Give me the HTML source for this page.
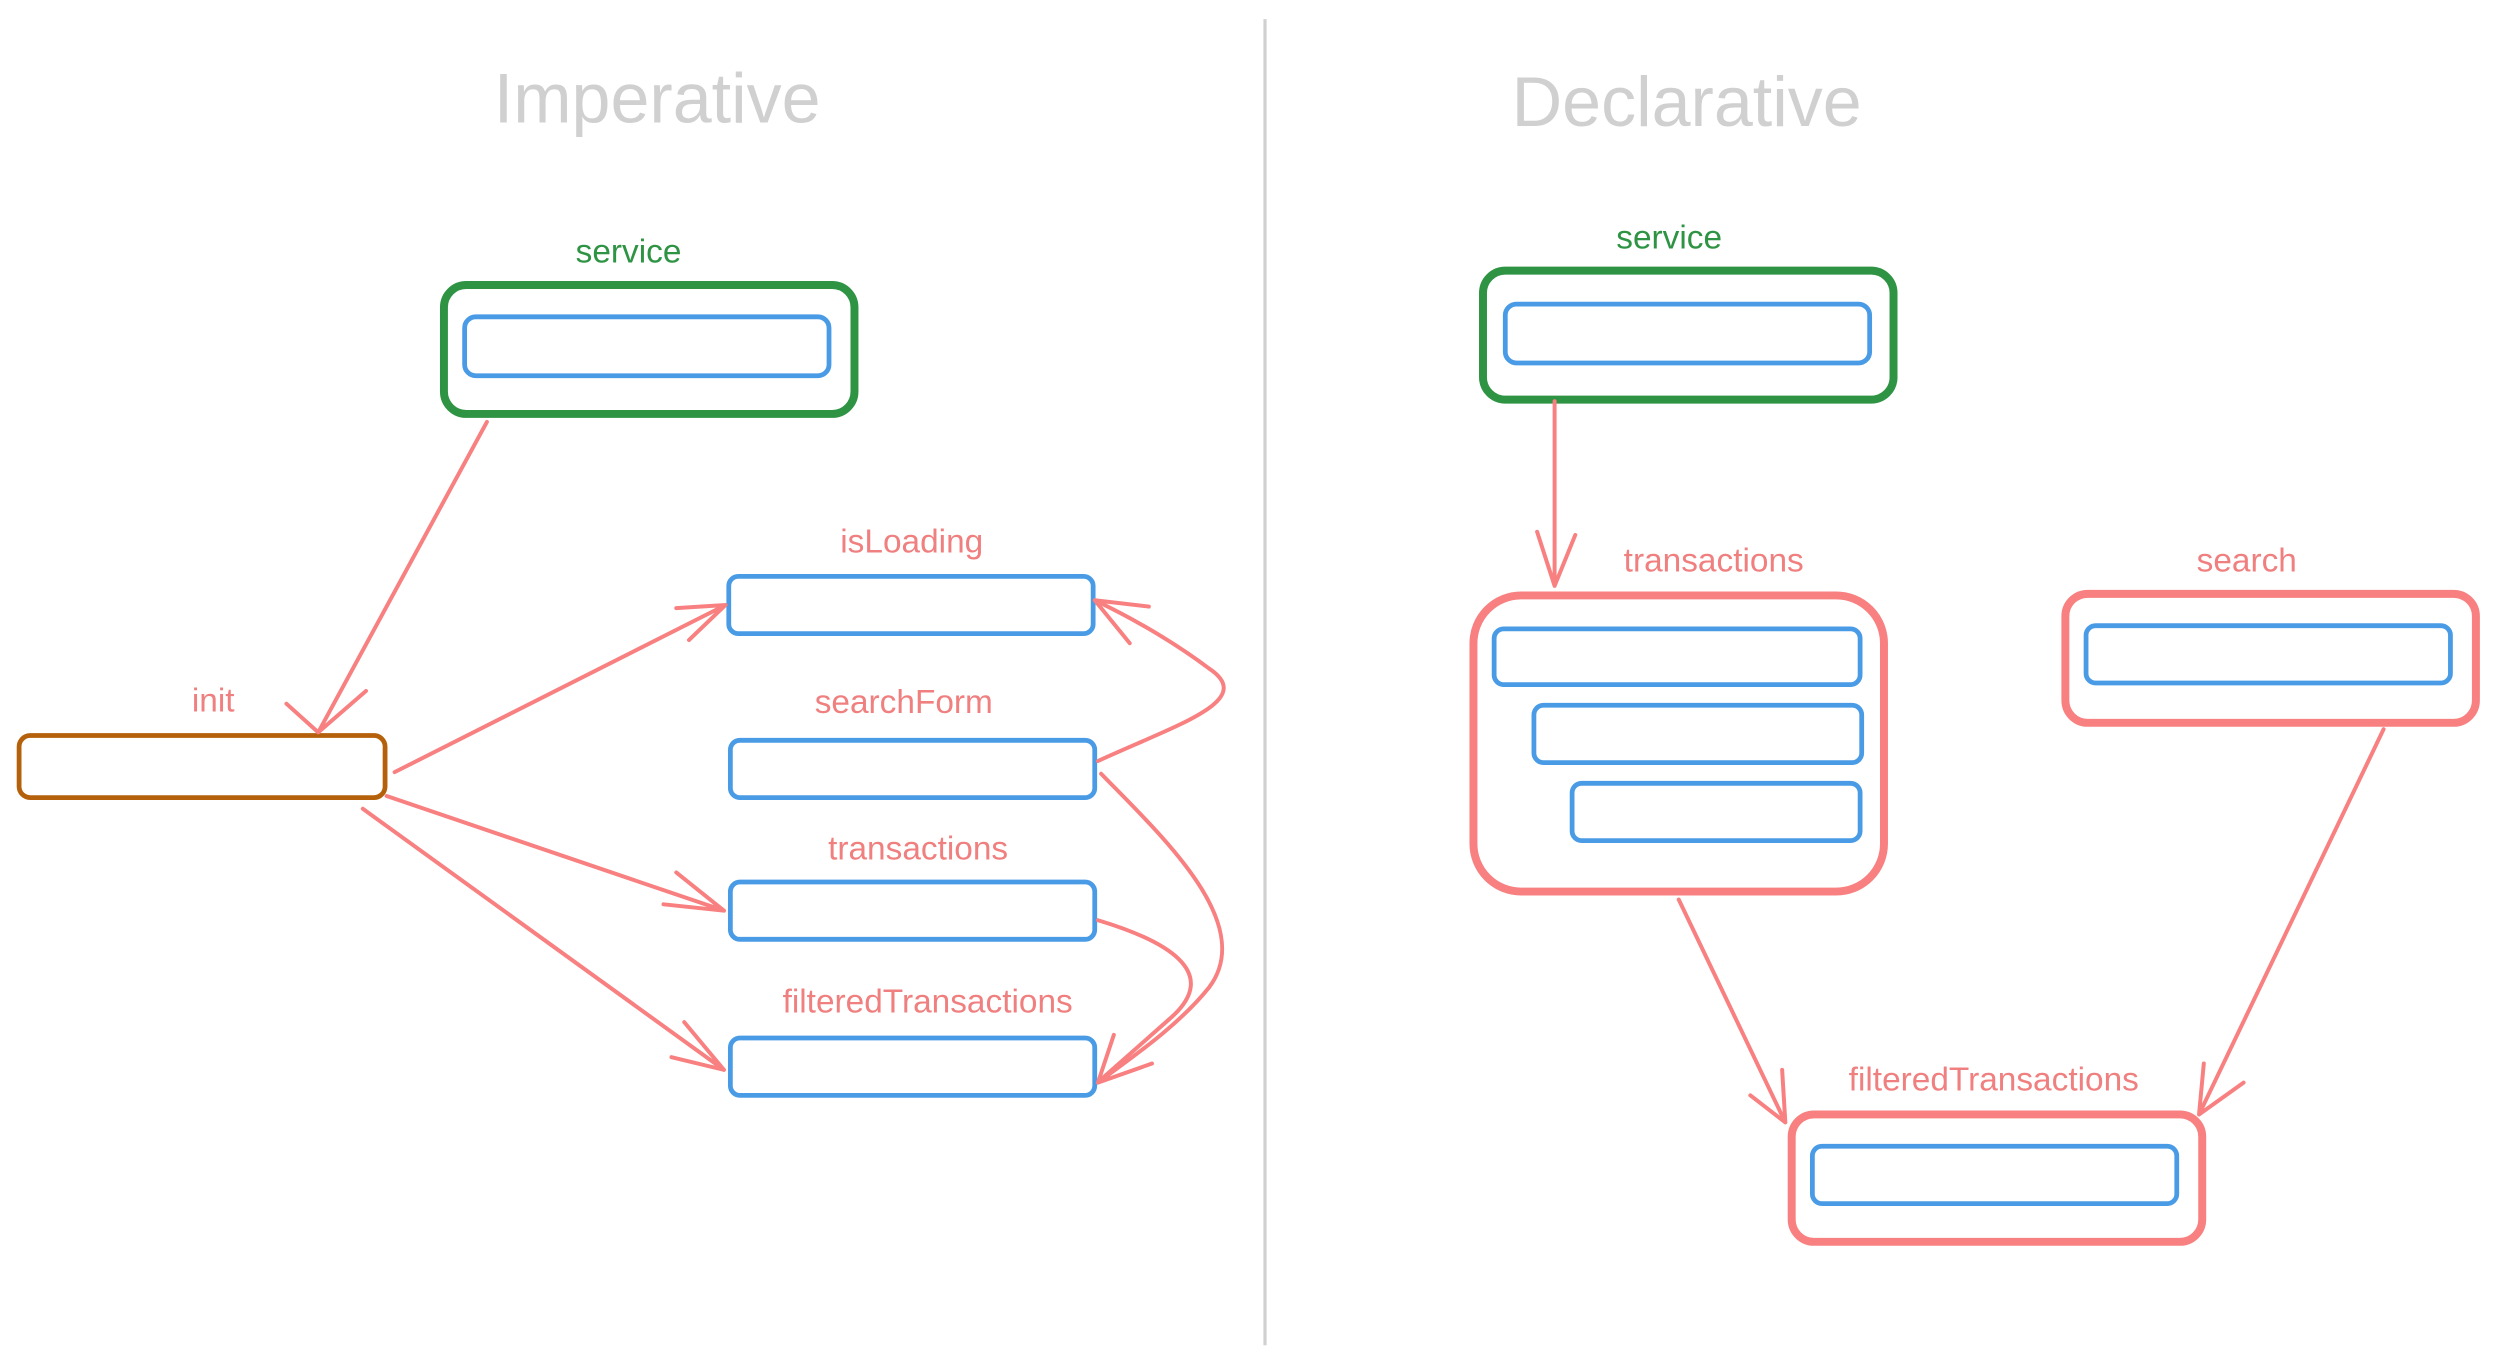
<!DOCTYPE html>
<html><head><meta charset="utf-8"><style>
html,body{margin:0;padding:0;background:#fff;}
svg{display:block;}
text{font-family:"Liberation Sans",sans-serif;}
</style></head><body>
<svg width="2495" height="1366" viewBox="0 0 1568 858" preserveAspectRatio="none" xmlns="http://www.w3.org/2000/svg">
<rect width="1568" height="858" fill="#fff"/>
<line x1="795" y1="12" x2="795" y2="845" stroke="#d0d0d0" stroke-width="2"/>
<text x="413" y="77" font-size="44" fill="#d0d0d0" text-anchor="middle">Imperative</text>
<text x="1060" y="79" font-size="44" fill="#d0d0d0" text-anchor="middle">Declarative</text>
<g font-size="21" text-anchor="middle">
<text x="395" y="165" fill="#2f9344">service</text>
<text x="1049" y="156" fill="#2f9344">service</text>
<text x="134" y="447" fill="#f08080">init</text>
<text x="573" y="347" fill="#f08080">isLoading</text>
<text x="568" y="448" fill="#f08080">searchForm</text>
<text x="577" y="540" fill="#f08080">transactions</text>
<text x="583" y="636" fill="#f08080">filteredTransactions</text>
<text x="1077" y="359" fill="#f08080">transactions</text>
<text x="1412" y="359" fill="#f08080">search</text>
<text x="1253" y="685" fill="#f08080">filteredTransactions</text>
</g>
<g fill="none" stroke-linecap="round" stroke-linejoin="round">
<rect x="279" y="179" width="258" height="81" rx="14" stroke="#2f9344" stroke-width="5"/>
<rect x="292" y="199" width="229" height="37" rx="7" stroke="#4a9be6" stroke-width="3"/>
<rect x="932" y="170" width="258" height="81" rx="14" stroke="#2f9344" stroke-width="5"/>
<rect x="946" y="191" width="229" height="37" rx="7" stroke="#4a9be6" stroke-width="3"/>
<rect x="12" y="462" width="230" height="39" rx="7" stroke="#b5600a" stroke-width="3"/>
<rect x="458" y="362" width="229" height="36" rx="6" stroke="#4a9be6" stroke-width="3"/>
<rect x="459" y="465" width="229" height="36" rx="6" stroke="#4a9be6" stroke-width="3"/>
<rect x="459" y="554" width="229" height="36" rx="6" stroke="#4a9be6" stroke-width="3"/>
<rect x="459" y="652" width="229" height="36" rx="6" stroke="#4a9be6" stroke-width="3"/>
<rect x="926" y="374" width="258" height="186" rx="30" stroke="#f88080" stroke-width="5"/>
<rect x="939" y="395" width="230" height="35" rx="6" stroke="#4a9be6" stroke-width="3"/>
<rect x="964" y="443" width="206" height="36" rx="6" stroke="#4a9be6" stroke-width="3"/>
<rect x="988" y="492" width="181" height="36" rx="6" stroke="#4a9be6" stroke-width="3"/>
<rect x="1298" y="373" width="258" height="81" rx="14" stroke="#f88080" stroke-width="5"/>
<rect x="1311" y="393" width="229" height="36" rx="6" stroke="#4a9be6" stroke-width="3"/>
<rect x="1126" y="700" width="258" height="80" rx="14" stroke="#f88080" stroke-width="5"/>
<rect x="1139" y="720" width="229" height="36" rx="6" stroke="#4a9be6" stroke-width="3"/>
<g stroke="#f88080" stroke-width="2.5">
<path d="M306 265 L200 460 M180 442 L200 460 L230 434"/>
<path d="M248 485 L456 380 M425 382 L456 380 L433 402"/>
<path d="M243 500 L455 572 M425 548 L455 572 L417 568"/>
<path d="M228 508 L455 672 M430 642 L455 672 L422 664"/>
<path d="M690 478 C740 455 790 440 760 420 C740 405 715 390 688 377 M722 381 L688 377 L710 404"/>
<path d="M692 486 C730 525 790 580 760 620 C740 645 710 665 690 680 M700 650 L690 680 L724 668"/>
<path d="M690 578 C730 590 770 610 735 640 L692 678"/>
<path d="M977 252 L977 368 M966 334 L977 368 L990 336"/>
<path d="M1055 565 L1122 705 M1100 688 L1122 705 L1120 672"/>
<path d="M1498 458 L1382 700 M1410 680 L1382 700 L1385 668"/>
</g>
</g>
</svg>
</body></html>
